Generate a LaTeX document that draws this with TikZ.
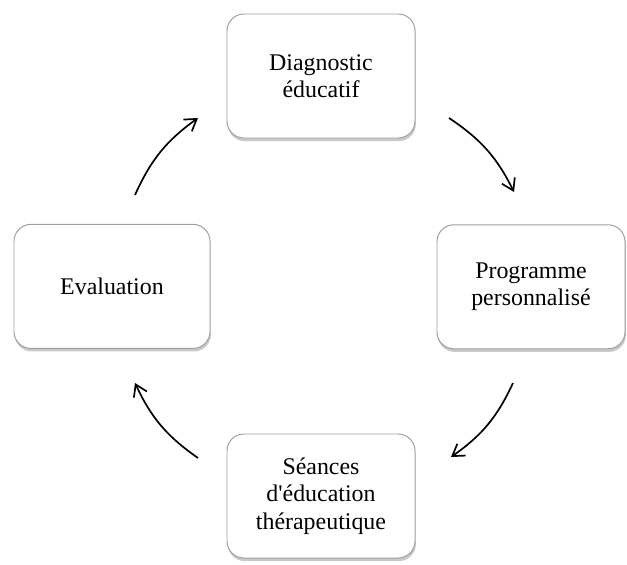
\documentclass[tikz,border=0pt]{standalone}
\usepackage{fontspec}
\setmainfont{Liberation Serif}
\usetikzlibrary{arrows.meta,shadows}

\tikzset{
    stage/.style={draw=gray!75, line width=0.7pt, fill=white, rounded corners=12pt,
        minimum width=4.7cm, minimum height=3.1cm, align=center,
        font=\fontsize{17}{19.5}\selectfont,
        drop shadow={shadow xshift=0.6pt, shadow yshift=-2.2pt, opacity=0.5, fill=gray!85}},
    cycle arrow/.style={line width=1.2pt, -{Straight Barb[length=2.8mm, width=3.6mm]}}
}

\begin{document}
\begin{tikzpicture}
        \useasboundingbox (0,0) rectangle (15.675,14.1);

        % Stages.
        \node[stage] (diag) at (8.025,12.2) {Diagnostic\\éducatif};
        \node[stage] (prog) at (13.275,6.93) {Programme\\personnalisé};
        \node[stage] (seance) at (8.025,1.7) {Séances\\d\textquotesingle éducation\\thérapeutique};
        \node[stage, minimum width=4.9cm] (eval) at (2.8,6.94) {Evaluation};

        % Arrow ends.
        \coordinate (a1s) at (3.375,9.225);
        \coordinate (a1e) at (4.95,11.15);
        \coordinate (a2s) at (11.225,11.15);
        \coordinate (a2e) at (12.85,9.3);
        \coordinate (a3s) at (12.825,4.525);
        \coordinate (a3e) at (11.275,2.675);
        \coordinate (a4s) at (4.95,2.65);
        \coordinate (a4e) at (3.375,4.525);

        \draw[cycle arrow] (a1s) to[bend left=15] (a1e);
        \draw[cycle arrow] (a2s) to[bend left=15] (a2e);
        \draw[cycle arrow] (a3s) to[bend left=15] (a3e);
        \draw[cycle arrow] (a4s) to[bend left=15] (a4e);
    \end{tikzpicture}
\end{document}
